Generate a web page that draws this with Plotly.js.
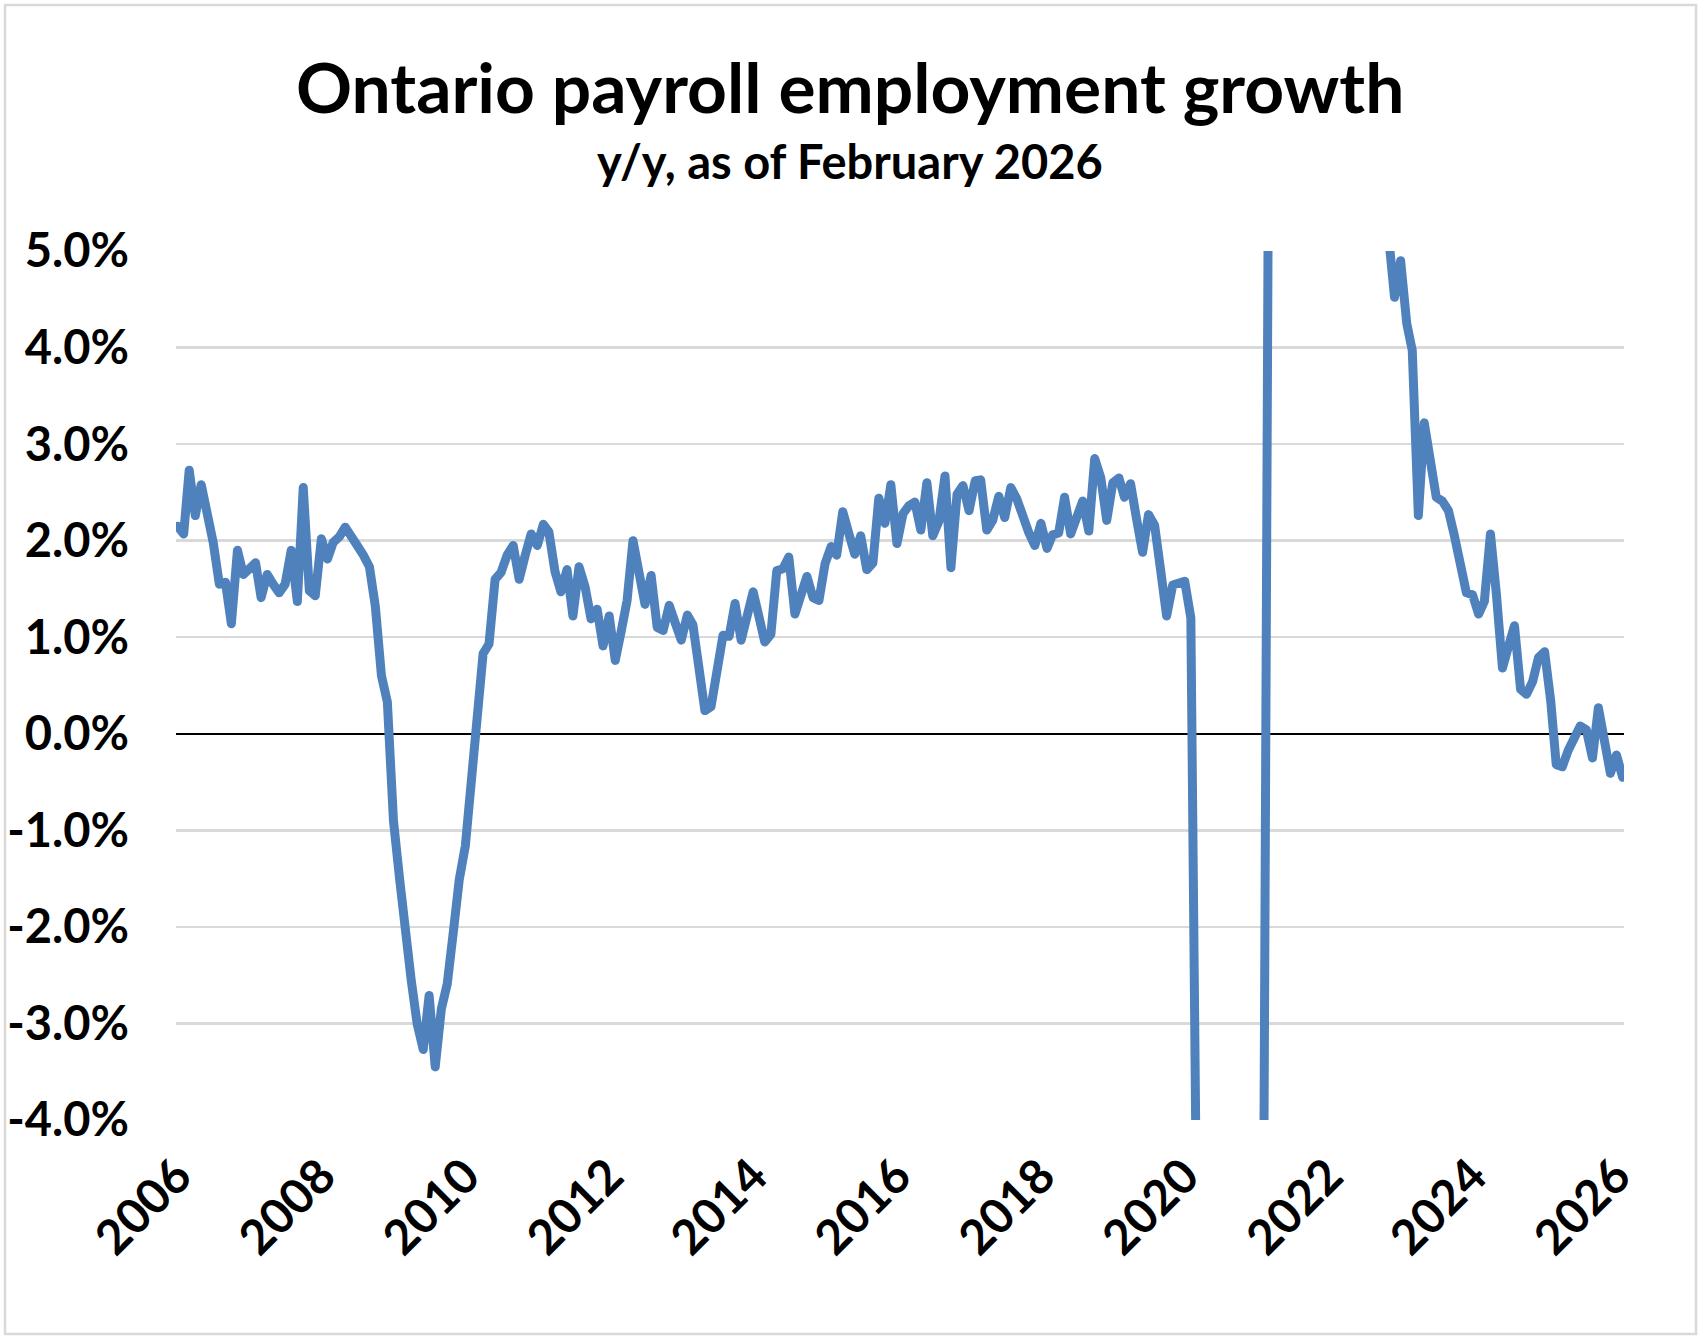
<!DOCTYPE html>
<html>
<head>
<meta charset="utf-8">
<script src="https://cdn.plot.ly/plotly-3.0.1.min.js"></script>
<style>
  html, body { margin: 0; padding: 0; background: #fff; }
  #chart { width: 1700px; height: 1342px; }
  /* Excel-like rounded joins on the series line */
  #chart .js-line { stroke-linejoin: round; stroke-linecap: round; }
</style>
</head>
<body>
<div id="chart"></div>
<script>
// Ontario payroll employment, y/y % change, monthly Jan 2006 - Feb 2026
const startYear = 2006;
const yoyGrowth = [
  // 2006
  2.15, 2.07, 2.73, 2.26, 2.58, 2.30, 1.98, 1.55, 1.57, 1.14, 1.90, 1.65,
  // 2007
  1.70, 1.77, 1.41, 1.65, 1.55, 1.46, 1.55, 1.90, 1.37, 2.55, 1.48, 1.43,
  // 2008
  2.02, 1.81, 1.98, 2.04, 2.14, 2.06, 1.95, 1.85, 1.73, 1.32, 0.60, 0.33,
  // 2009
  -0.90, -1.50, -2.05, -2.55, -3.00, -3.27, -2.71, -3.45, -2.85, -2.59, -2.05, -1.51,
  // 2010
  -1.16, -0.45, 0.25, 0.83, 0.93, 1.60, 1.67, 1.85, 1.95, 1.60, 1.85, 2.07,
  // 2011
  1.95, 2.17, 2.09, 1.68, 1.47, 1.70, 1.22, 1.73, 1.52, 1.19, 1.29, 0.91,
  // 2012
  1.22, 0.76, 1.05, 1.38, 2.00, 1.65, 1.34, 1.64, 1.10, 1.07, 1.33, 1.15,
  // 2013
  0.97, 1.23, 1.13, 0.68, 0.24, 0.28, 0.69, 1.02, 1.01, 1.35, 0.97, 1.22,
  // 2014
  1.47, 1.20, 0.95, 1.03, 1.69, 1.71, 1.83, 1.24, 1.43, 1.63, 1.41, 1.38,
  // 2015
  1.76, 1.94, 1.85, 2.30, 2.08, 1.86, 2.05, 1.70, 1.77, 2.44, 2.18, 2.58,
  // 2016
  1.97, 2.28, 2.36, 2.40, 2.11, 2.60, 2.05, 2.20, 2.67, 1.72, 2.48, 2.57,
  // 2017
  2.31, 2.62, 2.63, 2.11, 2.21, 2.46, 2.24, 2.55, 2.43, 2.22, 2.08, 1.95,
  // 2018
  2.18, 1.92, 2.06, 2.08, 2.45, 2.07, 2.27, 2.41, 2.10, 2.85, 2.65, 2.21,
  // 2019
  2.60, 2.65, 2.45, 2.59, 2.23, 1.88, 2.27, 2.16, 1.69, 1.22, 1.54, 1.56,
  // 2020
  1.58, 1.20, -5.0, -15.2, -13.4, -10.1, -8.3, -7.0, -6.2, -5.8, -5.6, -6.0,
  // 2021
  -6.3, -6.5, 6.0, 15.5, 13.8, 10.6, 9.1, 8.0, 7.4, 7.1, 6.9, 7.2,
  // 2022
  7.6, 8.2, 7.5, 6.9, 6.6, 6.4, 6.2, 6.0, 5.9, 5.8, 5.02, 4.52,
  // 2023
  4.90, 4.25, 3.97, 2.26, 3.22, 2.76, 2.45, 2.41, 2.31, 2.05, 1.75, 1.46,
  // 2024
  1.44, 1.24, 1.37, 2.07, 1.45, 0.68, 0.90, 1.12, 0.46, 0.41, 0.54, 0.79,
  // 2025
  0.85, 0.34, -0.32, -0.34, -0.17, -0.04, 0.08, 0.04, -0.25, 0.27, -0.05, -0.41,
  // 2026
  -0.22, -0.45
];

const tickYears = [2006, 2008, 2010, 2012, 2014, 2016, 2018, 2020, 2022, 2024, 2026];
const yTicks = [-4, -3, -2, -1, 0, 1, 2, 3, 4, 5];

// monthly dates for each value
const months = yoyGrowth.map((v, i) => {
  const y = startYear + Math.floor(i / 12);
  const m = (i % 12) + 1;
  return y + '-' + String(m).padStart(2, '0') + '-01';
});

// plot box in pixels, used to place titles and the frame
const W = 1700, H = 1342;
const box = { l: 176, r: 1624, t: 251, b: 1120 };
const pxX = px => (px - box.l) / (box.r - box.l);
const pxY = py => (box.b - py) / (box.b - box.t);

const font = 'Lato, "Open Sans", sans-serif';

const trace = {
  x: months,
  y: yoyGrowth,
  type: 'scatter',
  mode: 'lines',
  line: { color: '#4f81bd', width: 9 },
  hoverinfo: 'skip'
};

const layout = {
  width: W,
  height: H,
  margin: { l: box.l, r: W - box.r, t: box.t, b: H - box.b, pad: 0 },
  paper_bgcolor: '#ffffff',
  plot_bgcolor: '#ffffff',
  showlegend: false,
  xaxis: {
    type: 'date',
    range: ['2005-12-24', '2026-02-08'],
    tickvals: tickYears.map(y => y + '-01-01'),
    ticktext: tickYears.map(String),
    tickangle: -45,
    tickfont: { family: font, size: 48, weight: 'bold', color: '#000' },
    ticks: '',
    ticklabelstandoff: 17,
    showgrid: false,
    zeroline: false,
    showline: false,
    fixedrange: true
  },
  yaxis: {
    range: [-4, 5],
    tickvals: yTicks,
    ticktext: yTicks.map(v => v.toFixed(1) + '%'),
    tickfont: { family: font, size: 47, weight: 'bold', color: '#000' },
    ticks: '',
    ticklabelstandoff: 46,
    showgrid: true,
    gridcolor: '#d9d9d9',
    gridwidth: 2.5,
    zeroline: true,
    zerolinecolor: '#000000',
    zerolinewidth: 2,
    showline: false,
    fixedrange: true
  },
  annotations: [
    {
      text: 'Ontario payroll employment growth',
      xref: 'paper', yref: 'paper',
      x: pxX(850), y: pxY(86),
      xanchor: 'center', yanchor: 'middle',
      showarrow: false,
      font: { family: font, size: 69.5, weight: 'bold', color: '#000' }
    },
    {
      text: 'y/y, as of February 2026',
      xref: 'paper', yref: 'paper',
      x: pxX(850), y: pxY(161),
      xanchor: 'center', yanchor: 'middle',
      showarrow: false,
      font: { family: font, size: 47, weight: 'bold', color: '#000' }
    }
  ],
  shapes: [
    {
      type: 'rect', xref: 'paper', yref: 'paper', layer: 'below',
      x0: pxX(5), x1: pxX(1696), y0: pxY(1334), y1: pxY(5),
      line: { color: '#d9d9d9', width: 2.5 },
      fillcolor: 'rgba(0,0,0,0)'
    }
  ]
};

Plotly.newPlot('chart', [trace], layout, { staticPlot: true, displayModeBar: false });
</script>
</body>
</html>
